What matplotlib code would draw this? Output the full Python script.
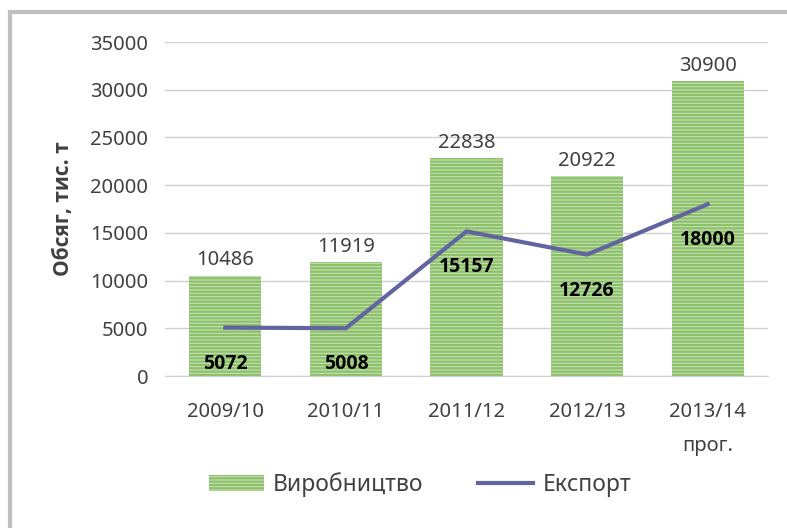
import matplotlib.pyplot as plt
from matplotlib.patches import Rectangle

plt.rcParams['font.family'] = ['Noto Sans', 'DejaVu Sans']
plt.rcParams['hatch.linewidth'] = 1.6

seasons = ['2009/10', '2010/11', '2011/12', '2012/13', '2013/14\nпрог.']
production = [10486, 11919, 22838, 20922, 30900]
export = [5072, 5008, 15157, 12726, 18000]

text_col = '#404040'
bar_light = '#c5e0b4'
bar_dark = '#8cc16a'
line_col = '#6264a0'
bold_font = ['Open Sans', 'DejaVu Sans']

fig = plt.figure(figsize=(7.87, 5.28), dpi=100)
ax = fig.add_axes([165 / 787, 1 - 376 / 528, (768 - 165) / 787, (376 - 42) / 528])

# рамка навколо діаграми
fig.patches.append(Rectangle((10 / 787, -0.1), 1.2, 1.1 - 12 / 528, transform=fig.transFigure,
                             fill=False, edgecolor='#bfbfbf', linewidth=3))

x = range(len(seasons))
bars = ax.bar(x, production, width=0.6, color=bar_light, edgecolor=bar_dark,
              hatch='-----', linewidth=0, label='Виробництво')
line, = ax.plot(x, export, color=line_col, linewidth=3, label='Експорт', zorder=3)

for xi, v in zip(x, production):
    ax.annotate(str(v), (xi, v), xytext=(0, 4), textcoords='offset points',
                ha='center', va='bottom', fontsize=14.5, color=text_col)
for xi, v in zip(x, export):
    ax.annotate(str(v), (xi, v), xytext=(0, -26), textcoords='offset points',
                ha='center', va='center', fontsize=14, fontweight='bold', family=bold_font,
                color='black', zorder=4)

ax.set_ylim(0, 35000)
ax.set_xlim(-0.5, 4.5)
ax.set_yticks(range(0, 35001, 5000))
ax.set_xticks(list(x))
ax.set_xticklabels(seasons, linespacing=1.9)
ax.tick_params(axis='both', length=0, labelsize=14.5, colors=text_col)
ax.tick_params(axis='x', pad=19)
ax.tick_params(axis='y', pad=12)
ax.grid(axis='y', color='#d0d0d0', linewidth=1)
ax.set_axisbelow(True)
for s in ['top', 'right', 'left']:
    ax.spines[s].set_visible(False)
ax.spines['bottom'].set_color('#d0d0d0')

ax.set_ylabel('Обсяг, тис. т', fontsize=15, fontweight='bold', family=bold_font,
              color=text_col, labelpad=12)

ax.legend([bars, line], ['Виробництво', 'Експорт'], loc='center',
          bbox_to_anchor=(420 / 787, 1 - 485 / 528), bbox_transform=fig.transFigure,
          ncol=2, frameon=False, fontsize=16.5, handlelength=2.4, columnspacing=2.4,
          handletextpad=0.4, labelcolor=text_col)

fig.savefig('out.png', dpi=100)
